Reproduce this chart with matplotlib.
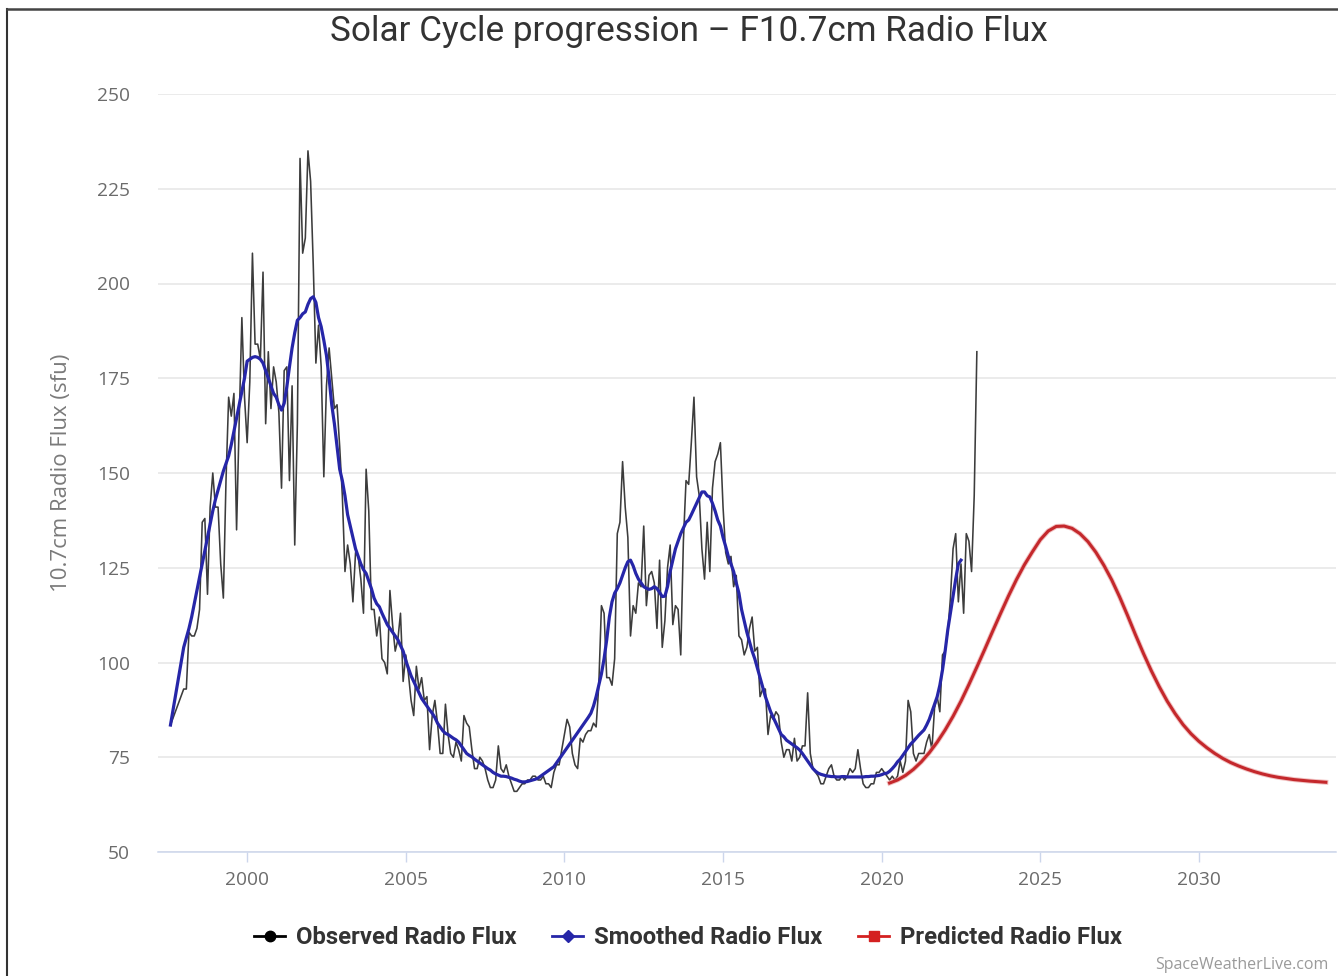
import numpy as np
import pandas as pd
import matplotlib
matplotlib.use("Agg")
import matplotlib.pyplot as plt
from matplotlib.lines import Line2D
from matplotlib import font_manager

_names = {f.name for f in font_manager.fontManager.ttflist}
NARROW = "Roboto" if "Roboto" in _names else "DejaVu Sans"
BASE = "Open Sans" if "Open Sans" in _names else "DejaVu Sans"

# ---------------- data ----------------
title = "Solar Cycle progression \u2013 F10.7cm Radio Flux"
y_label = "10.7cm Radio Flux (sfu)"
series_names = ["Observed Radio Flux", "Smoothed Radio Flux", "Predicted Radio Flux"]
x_ticks = [2000, 2005, 2010, 2015, 2020, 2025, 2030]
y_ticks = [50, 75, 100, 125, 150, 175, 200, 225, 250]
credit = "SpaceWeatherLive.com"

first_month = "1997-08"
first_value = 83.5

obs_start = "1998-01"
observed = [
    93, 93, 108, 107, 107, 109, 114, 137, 138, 118, 141, 150,      # 1998
    141, 141, 126, 117, 148, 170, 165, 171, 135, 164, 191, 170,    # 1999
    158, 174, 208, 184, 184, 180, 203, 163, 182, 167, 178, 174,    # 2000
    166, 146, 177, 178, 148, 173, 131, 163, 233, 208, 212, 235,    # 2001
    227, 205, 179, 189, 178, 149, 173, 183, 175, 167, 168, 157,    # 2002
    144, 124, 131, 126, 116, 129, 128, 122, 113, 151, 140, 114,    # 2003
    114, 107, 112, 101, 100, 97, 119, 110, 103, 106, 113, 95,      # 2004
    102, 97, 90, 86, 99, 93, 96, 90, 91, 77, 86, 90,               # 2005
    84, 76, 76, 89, 81, 76, 75, 79, 77, 74, 86, 84,                # 2006
    83, 77, 72, 72, 75, 74, 72, 69, 67, 67, 69, 78,                # 2007
    72, 71, 73, 70, 68, 66, 66, 67, 68, 68, 69, 69,                # 2008
    70, 70, 69, 69, 70, 68, 68, 67, 71, 73, 73, 77,                # 2009
    81, 85, 83, 76, 73, 72, 80, 79, 81, 82, 82, 84,                # 2010
    83, 94, 115, 113, 96, 96, 94, 101, 134, 137, 153, 141,         # 2011
    133, 107, 115, 113, 121, 120, 136, 115, 123, 124, 121, 109,    # 2012
    127, 104, 111, 125, 131, 110, 115, 114, 102, 132, 148, 147,    # 2013
    158, 170, 149, 144, 130, 122, 137, 124, 146, 153, 155, 158,    # 2014
    141, 129, 126, 128, 120, 123, 107, 106, 102, 104, 109, 112,    # 2015
    103, 104, 91, 93, 93, 81, 86, 85, 87, 86, 79, 75,              # 2016
    77, 77, 74, 80, 74, 75, 78, 78, 92, 76, 72, 71,                # 2017
    70, 68, 68, 70, 72, 73, 70, 69, 69, 70, 69, 70,                # 2018
    72, 71, 72, 77, 72, 68, 67, 67, 68, 68, 71, 71,                # 2019
    72, 71, 70, 69, 70, 69, 70, 74, 71, 74, 90, 87,                # 2020
    76, 74, 76, 76, 76, 79, 81, 77, 88, 91, 87, 102,               # 2021
    103, 108, 117, 130, 134, 116, 126, 113, 134, 132, 124, 144,    # 2022
    182,                                                           # 2023
]

smooth_start = "1998-01"
smoothed = [
    104, 106.5, 109, 112, 115.5, 119, 122.5, 126, 129.5, 133, 136.5, 140,       # 1998
    143, 145.5, 148, 150.5, 152.5, 154.5, 157.5, 161, 164.5, 168, 171.5, 175,   # 1999
    179.5, 180, 180.5, 180.7, 180.5, 180, 179, 177, 175, 173, 171, 170,         # 2000
    168, 166.6, 168.4, 172.7, 178, 183, 187, 190.3, 191, 192, 192.5, 194.5,     # 2001
    196, 196.5, 195, 191, 188.6, 185, 181, 175, 168, 163, 157, 151,             # 2002
    148, 144, 139, 136, 133, 130, 128, 126, 124.5, 123.5, 121.5, 119.5,         # 2003
    117, 115.5, 114.7, 113, 111.5, 110, 109, 108, 107, 106, 104.5, 103,         # 2004
    100.5, 98.5, 96.5, 95, 93.5, 92, 90.5, 89.5, 88.5, 87.5, 86.6, 85.5,        # 2005
    84, 83, 82, 81.3, 81, 80.5, 80, 79.6, 79, 78, 77, 76,                       # 2006
    75.5, 75.1, 74.5, 74, 73.5, 73, 72.5, 72, 71.6, 71, 70.6, 70.3,             # 2007
    70, 70, 69.9, 69.7, 69.5, 69.2, 69, 68.7, 68.5, 68.5, 68.6, 68.8,           # 2008
    69, 69.2, 69.5, 70, 70.5, 71, 71.5, 72, 72.5, 73.5, 74.5, 75.5,             # 2009
    76.5, 77.5, 78.5, 79.5, 80.5, 81.5, 82.5, 83.5, 84.5, 85.5, 86.6, 88.5,     # 2010
    91, 94, 97, 101, 106, 112, 116, 118.3, 119.5, 121, 123, 125,                # 2011
    126.6, 127, 125.5, 123.5, 122, 121, 120, 119.6, 119.3, 119.5, 120, 119.5,   # 2012
    118.5, 117.4, 117.5, 120, 124, 127, 130, 132, 134, 135.5, 137, 137.6,       # 2013
    139, 140.5, 142, 143.5, 145, 145, 144, 143.7, 142, 140, 137.6, 136,         # 2014
    133, 130.6, 128, 126, 124, 121, 118.3, 114, 111, 108, 105.5, 103,           # 2015
    101, 98.5, 96, 93.5, 91, 89, 87, 85.5, 84, 82.5, 81, 80.4,                  # 2016
    79.5, 79, 78.5, 78, 77.5, 76.9, 76, 75, 74, 73, 72, 71.3,                   # 2017
    70.8, 70.5, 70.3, 70.1, 70, 69.9, 69.9, 69.8, 69.8, 69.9, 69.9, 69.8,       # 2018
    69.8, 69.8, 69.8, 69.8, 69.8, 69.8, 69.9, 69.9, 70, 70, 70.1, 70.2,         # 2019
    70.4, 70.7, 70.8, 71.3, 72, 72.8, 73.8, 74.5, 75.5, 76.5, 77.5, 78.5,       # 2020
    79.2, 80, 80.8, 81.5, 82.2, 83.5, 85, 87, 89, 91, 94, 98,                   # 2021
    103, 108.6, 113, 117.5, 122, 126, 127,                                      # 2022
]

pred_start = "2020-04"
pred_step_months = 3
predicted = [
    68.2, 69.0, 70.2,                 # 2020
    71.8, 73.8, 76.2, 79.0,           # 2021
    82.2, 85.8, 89.8, 94.2,           # 2022
    98.8, 103.5, 108.3, 113.0,        # 2023
    117.6, 121.9, 125.8, 129.2,       # 2024
    132.4, 134.7, 135.9, 136.0,       # 2025
    135.4, 134.0, 131.9, 129.1,       # 2026
    125.7, 121.8, 117.3, 112.4,       # 2027
    107.3, 102.4, 97.8, 93.6,         # 2028
    89.8, 86.5, 83.6, 81.2,           # 2029
    79.2, 77.5, 76.0, 74.7,           # 2030
    73.6, 72.7, 71.9, 71.2,           # 2031
    70.6, 70.1, 69.7, 69.4,           # 2032
    69.1, 68.9, 68.7, 68.55,          # 2033
    68.4,                             # 2034
]


def dec_year(periods):
    return np.array([p.year + (p.month - 1) / 12.0 for p in periods])


p0 = pd.Period(first_month, "M")
obs_x = np.concatenate([[dec_year([p0])[0]],
                        dec_year(pd.period_range(obs_start, periods=len(observed), freq="M"))])
obs_y = np.array([first_value] + observed)
sm_x = np.concatenate([[dec_year([p0])[0]],
                       dec_year(pd.period_range(smooth_start, periods=len(smoothed), freq="M"))])
sm_y = np.array([first_value] + smoothed)
ps = pd.Period(pred_start, "M")
pr_x = dec_year([ps + pred_step_months * i for i in range(len(predicted))])
pr_y = np.array(predicted)

# ---------------- figure ----------------
W, H = 1338, 976
fig = plt.figure(figsize=(W / 100, H / 100), dpi=100)
fig.patch.set_facecolor("white")

L, R, B, T = 158, 1336, 852, 94
ax = fig.add_axes([L / W, 1 - B / H, (R - L) / W, (B - T) / H])

OBS_C = "#3c3c3c"
SM_C = "#2626a8"
PR_C = "#c4282c"

ax.plot(obs_x, obs_y, color=OBS_C, lw=1.15, zorder=3)
ax.plot(sm_x, sm_y, color=SM_C, lw=2.3, zorder=4, solid_joinstyle="round")
ax.plot(pr_x, pr_y, color="#e89a9a", lw=3.6, zorder=5, alpha=0.6)
ax.plot(pr_x, pr_y, color=PR_C, lw=2.2, zorder=6)

ax.set_xlim(1997.19, 2034.32)
ax.set_ylim(50, 250)
ax.set_xticks(x_ticks)
ax.set_yticks(y_ticks)
ax.set_xticklabels([str(t) for t in x_ticks], fontfamily=BASE, fontsize=13.8, color="#6b6b6b")
ax.set_yticklabels([str(t) for t in y_ticks], fontfamily=BASE, fontsize=13.8, color="#6b6b6b")
ax.tick_params(axis="y", length=0, pad=20)
ax.tick_params(axis="x", length=7.5, width=1, color="#ccd6eb", pad=6, direction="out")
ax.grid(axis="y", color="#e6e6e6", lw=1.1, zorder=0)
ax.set_axisbelow(True)
for s in ["left", "right", "top"]:
    ax.spines[s].set_visible(False)
ax.spines["bottom"].set_color("#ccd6eb")
ax.spines["bottom"].set_linewidth(1.1)

ax.set_ylabel(y_label, fontfamily=BASE, fontsize=16, color="#7a7a7a")
ax.yaxis.set_label_coords((72 - L) / (R - L), 0.5)

fig.text(689 / W, 1 - 31 / H, title, ha="center", va="center",
         fontfamily=NARROW, fontsize=25.3, color="#333333")

handles = [
    Line2D([], [], color="black", lw=2, marker="o", markersize=7.5),
    Line2D([], [], color=SM_C, lw=2, marker="D", markersize=6.5),
    Line2D([], [], color="#d42020", lw=2, marker="s", markersize=7.5),
]
leg = fig.legend(handles, series_names, loc="center", bbox_to_anchor=(688 / W, 1 - 938 / H),
                 ncol=3, frameon=False, handlelength=1.3, handletextpad=0.45,
                 columnspacing=1.5, prop={"family": NARROW, "weight": "bold", "size": 17.2})
for t in leg.get_texts():
    t.set_color("#333333")

fig.text(1155 / W, 1 - 957 / H, credit, ha="left", va="top",
         fontfamily=BASE, fontsize=11.5, color="#9a9a9a")

# outer frame (top and left border)
fig.add_artist(Line2D([7 / W, 7 / W], [0, 1 - 9 / H], transform=fig.transFigure,
                      color="#333333", lw=1.5))
fig.add_artist(Line2D([7 / W, 1], [1 - 9 / H, 1 - 9 / H], transform=fig.transFigure,
                      color="#444444", lw=1.8))

fig.savefig("out.png", dpi=100, facecolor="white")
